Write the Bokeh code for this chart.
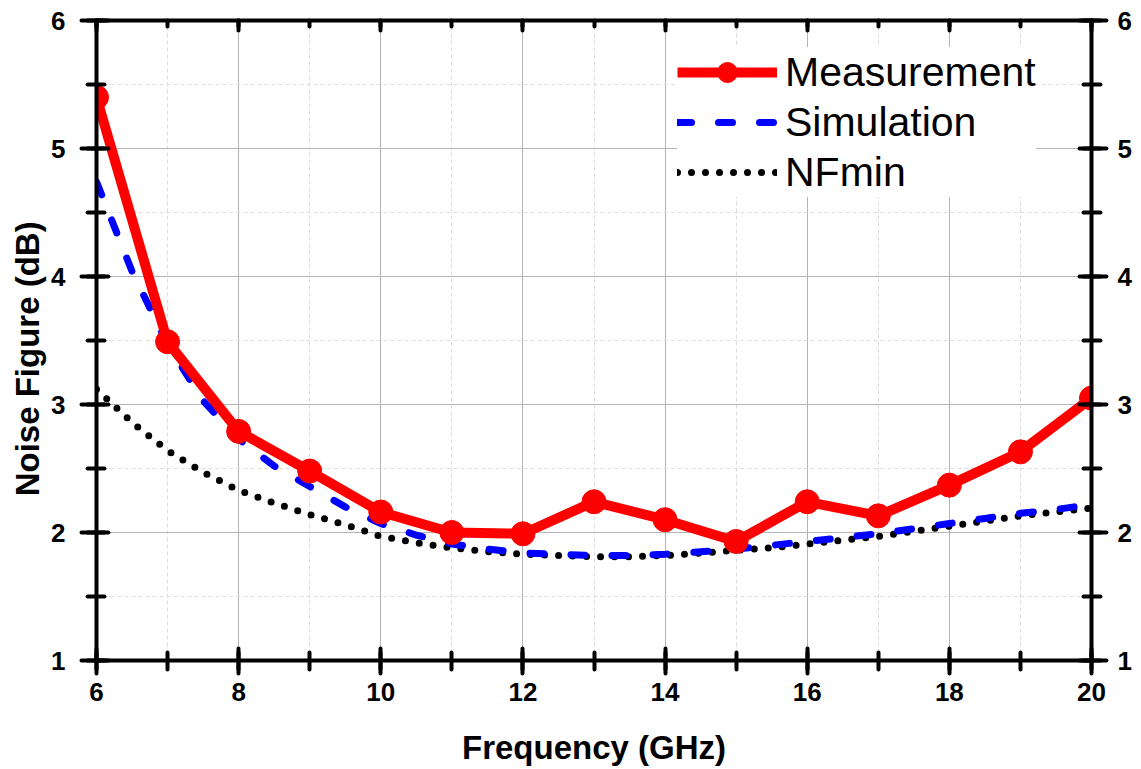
from bokeh.plotting import figure
from bokeh.models import LinearAxis, SingleIntervalTicker, Range1d, Legend, LegendItem
from bokeh.embed import file_html
from bokeh.resources import INLINE

# ---- data ----
meas_freq = [6, 7, 8, 9, 10, 11, 12, 13, 14, 15, 16, 17, 18, 19, 20]
meas_nf = [5.40, 3.49, 2.79, 2.48, 2.16, 2.00, 1.99, 2.24, 2.10, 1.93, 2.24, 2.13, 2.37, 2.63, 3.05]

curve_freq = [6, 6.5, 7, 7.5, 8, 8.5, 9, 9.5, 10, 10.5, 11, 11.5, 12, 12.5, 13, 13.5,
              14, 14.5, 15, 15.5, 16, 16.5, 17, 17.5, 18, 18.5, 19, 19.5, 20]
sim_nf = [4.74, 4.04, 3.47, 3.03, 2.73, 2.52, 2.36, 2.20, 2.07, 1.98, 1.91, 1.87, 1.84, 1.83,
          1.82, 1.82, 1.83, 1.85, 1.87, 1.90, 1.93, 1.96, 1.99, 2.03, 2.07, 2.11, 2.15, 2.18, 2.22]
nfmin = [3.12, 2.86, 2.64, 2.47, 2.33, 2.23, 2.14, 2.06, 1.97, 1.92, 1.88, 1.85, 1.83, 1.82,
         1.81, 1.81, 1.82, 1.84, 1.86, 1.88, 1.91, 1.94, 1.97, 2.01, 2.05, 2.09, 2.13, 2.16, 2.19]

x_label = "Frequency (GHz)"
y_label = "Noise Figure (dB)"
series_names = ["Measurement", "Simulation", "NFmin"]

FONT = "Liberation Sans"

p = figure(frame_width=995, frame_height=640,
           x_range=Range1d(6, 20), y_range=Range1d(1, 6),
           output_backend="svg", toolbar_location=None,
           min_border_left=96, min_border_top=20, min_border_right=30, min_border_bottom=85,
           background_fill_color="white", border_fill_color="white")
p.outline_line_color = None

xt = SingleIntervalTicker(interval=2, num_minor_ticks=2)
yt = SingleIntervalTicker(interval=1, num_minor_ticks=2)

def style_axis(ax, labels=True, out=13, inn=12):
    ax.axis_line_width = 4
    ax.axis_line_color = "black"
    ax.major_tick_line_width = 4
    ax.minor_tick_line_width = 4
    ax.major_tick_line_cap = "round"
    ax.minor_tick_line_cap = "round"
    ax.major_tick_out = out
    ax.major_tick_in = inn
    ax.minor_tick_out = out if out == 0 else 9
    ax.minor_tick_in = 8 if inn else 0
    ax.major_label_text_font = FONT
    ax.major_label_text_font_style = "bold"
    ax.major_label_text_font_size = "26px"
    ax.major_label_text_color = "black" if labels else None
    ax.axis_label_text_font = FONT
    ax.axis_label_text_font_style = "bold"
    ax.axis_label_text_font_size = "33px"
    ax.axis_label_text_color = "black"

p.xaxis.ticker = xt
p.yaxis.ticker = yt
style_axis(p.xaxis[0])
style_axis(p.yaxis[0], out=15)
p.xaxis.axis_label = x_label
p.yaxis.axis_label = y_label + "\u00a0\u00a0\u00a0\u00a0"
p.xaxis.major_label_standoff = 9
p.xaxis.axis_label_standoff = 25
p.yaxis.major_label_standoff = 16
p.yaxis.axis_label_standoff = 2

top = LinearAxis(ticker=xt)
style_axis(top, labels=False, out=0, inn=10)
top.minor_tick_in = 6
top.major_label_standoff = 0
p.add_layout(top, "above")

right = LinearAxis(ticker=yt)
style_axis(right, out=15)
right.major_label_standoff = 11
p.add_layout(right, "right")

p.xgrid.ticker = xt
p.ygrid.ticker = yt
for g in (p.xgrid[0], p.ygrid[0]):
    g.grid_line_color = "#b4b4b4"
    g.grid_line_width = 1
    g.minor_grid_line_color = "#dcdcdc"
    g.minor_grid_line_width = 1
    g.minor_grid_line_dash = "4 3"

nf_r = p.line(curve_freq, nfmin, line_color="black", line_width=7, line_dash="0 14", line_cap="round")
sim_r = p.line(curve_freq, sim_nf, line_color="#0000ff", line_width=7, line_dash="14 27", line_cap="round")
meas_l = p.line(meas_freq, meas_nf, line_color="#ff0000", line_width=10, line_join="round")
meas_s = p.scatter(meas_freq, meas_nf, size=24, marker="circle", fill_color="#ff0000", line_color="#ff0000")

legend = Legend(items=[
    LegendItem(label=series_names[0], renderers=[meas_l, meas_s]),
    LegendItem(label=series_names[1], renderers=[sim_r]),
    LegendItem(label=series_names[2], renderers=[nf_r]),
], location=(581, 463))
legend.label_text_font = FONT
legend.label_text_font_size = "41px"
legend.label_text_color = "black"
legend.label_text_baseline = "middle"
legend.glyph_width = 100
legend.glyph_height = 50
legend.label_height = 50
legend.spacing = 0
legend.padding = 10
legend.margin = 0
legend.label_standoff = 8
legend.border_line_color = None
legend.background_fill_color = "white"
legend.background_fill_alpha = 1.0
p.add_layout(legend, "center")

open("out.html", "w").write(file_html(p, INLINE))
